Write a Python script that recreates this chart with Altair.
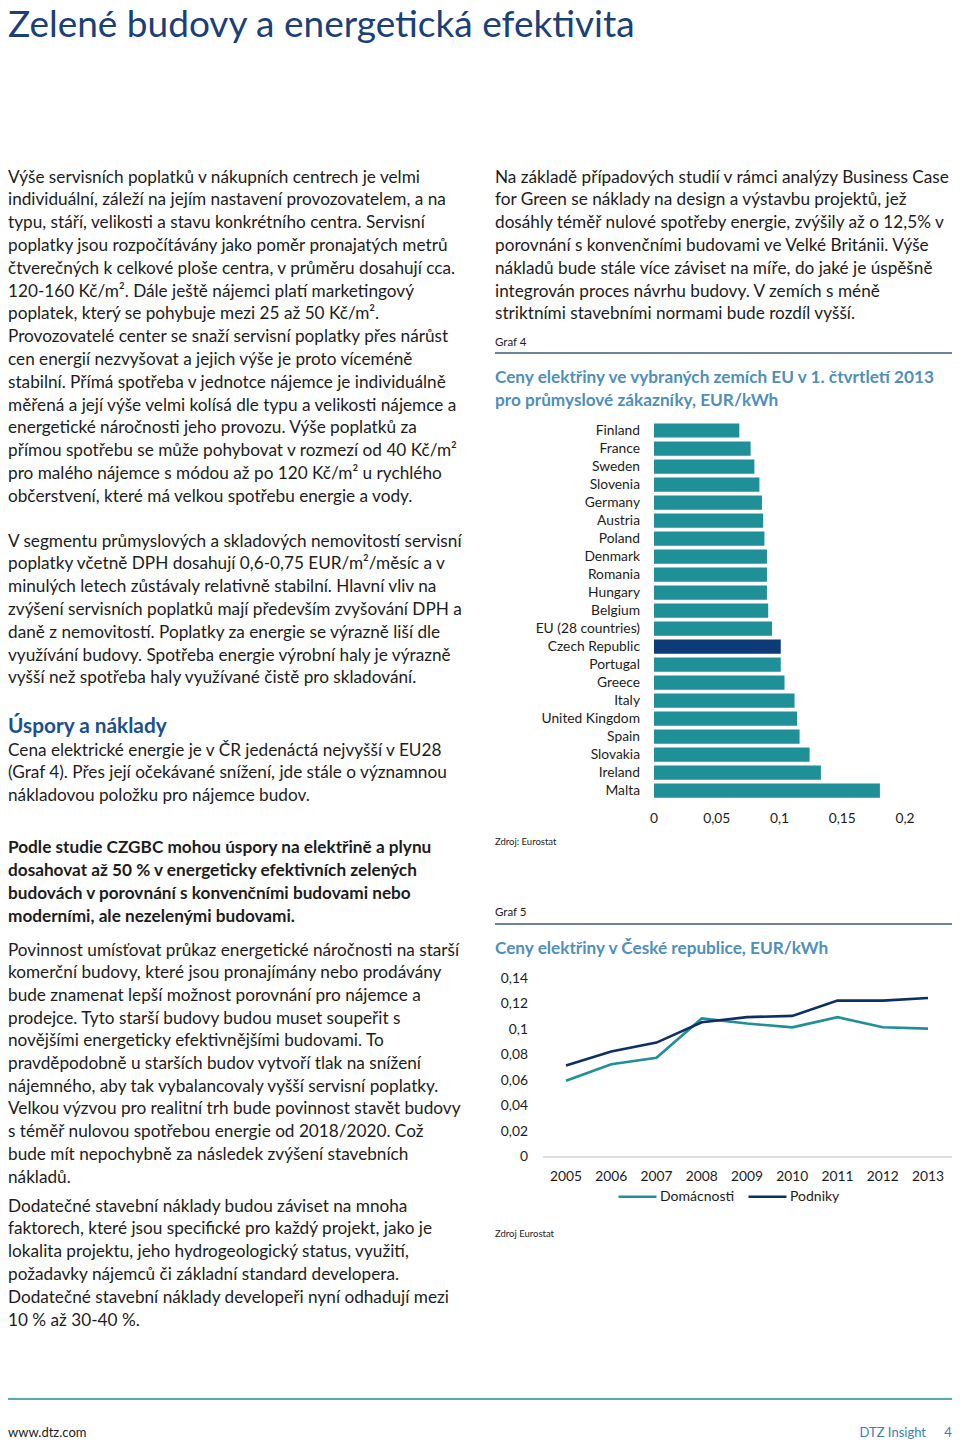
import altair as alt
import pandas as pd

# ---------------- data ----------------
title_text = "Zelené budovy a energetická efektivita"

left_p1 = [
    "Výše servisních poplatků v nákupních centrech je velmi",
    "individuální, záleží na jejím nastavení provozovatelem, a na",
    "typu, stáří, velikosti a stavu konkrétního centra. Servisní",
    "poplatky jsou rozpočítávány jako poměr pronajatých metrů",
    "čtverečných k celkové ploše centra, v průměru dosahují cca.",
    "120-160 Kč/m². Dále ještě nájemci platí marketingový",
    "poplatek, který se pohybuje mezi 25 až 50 Kč/m².",
    "Provozovatelé center se snaží servisní poplatky přes nárůst",
    "cen energií nezvyšovat a jejich výše je proto víceméně",
    "stabilní. Přímá spotřeba v jednotce nájemce je individuálně",
    "měřená a její výše velmi kolísá dle typu a velikosti nájemce a",
    "energetické náročnosti jeho provozu. Výše poplatků za",
    "přímou spotřebu se může pohybovat v rozmezí od 40 Kč/m²",
    "pro malého nájemce s módou až po 120 Kč/m² u rychlého",
    "občerstvení, které má velkou spotřebu energie a vody.",
]
left_p2 = [
    "V segmentu průmyslových a skladových nemovitostí servisní",
    "poplatky včetně DPH dosahují 0,6-0,75 EUR/m²/měsíc a v",
    "minulých letech zůstávaly relativně stabilní. Hlavní vliv na",
    "zvýšení servisních poplatků mají především zvyšování DPH a",
    "daně z nemovitostí. Poplatky za energie se výrazně liší dle",
    "využívání budovy. Spotřeba energie výrobní haly je výrazně",
    "vyšší než spotřeba haly využívané čistě pro skladování.",
]
heading_text = "Úspory a náklady"
left_p3 = [
    "Cena elektrické energie je v ČR jedenáctá nejvyšší v EU28",
    "(Graf 4). Přes její očekávané snížení, jde stále o významnou",
    "nákladovou položku pro nájemce budov.",
]
left_bold = [
    "Podle studie CZGBC mohou úspory na elektřině a plynu",
    "dosahovat až 50 % v energeticky efektivních zelených",
    "budovách v porovnání s konvenčními budovami nebo",
    "moderními, ale nezelenými budovami.",
]
left_p4 = [
    "Povinnost umísťovat průkaz energetické náročnosti na starší",
    "komerční budovy, které jsou pronajímány nebo prodávány",
    "bude znamenat lepší možnost porovnání  pro nájemce a",
    "prodejce. Tyto starší budovy budou muset soupeřit s",
    "novějšími energeticky efektivnějšími budovami. To",
    "pravděpodobně u starších budov vytvoří tlak na snížení",
    "nájemného, aby tak vybalancovaly vyšší servisní poplatky.",
    "Velkou výzvou pro realitní trh bude povinnost stavět budovy",
    "s téměř nulovou spotřebou energie od 2018/2020. Což",
    "bude mít nepochybně za následek zvýšení stavebních",
    "nákladů.",
]
left_p5 = [
    "Dodatečné stavební náklady budou záviset na mnoha",
    "faktorech, které jsou specifické pro každý projekt, jako je",
    "lokalita projektu, jeho hydrogeologický status, využití,",
    "požadavky nájemců či základní standard developera.",
    "Dodatečné stavební náklady developeři nyní odhadují mezi",
    "10 % až 30-40 %.",
]
right_p1 = [
    "Na základě případových studií v rámci analýzy Business Case",
    "for Green se náklady na design a výstavbu projektů, jež",
    "dosáhly téměř nulové spotřeby energie, zvýšily až o 12,5% v",
    "porovnání s konvenčními budovami ve Velké Británii. Výše",
    "nákladů bude stále více záviset na míře, do jaké je úspěšně",
    "integrován proces návrhu budovy. V zemích s méně",
    "striktními stavebními normami bude rozdíl vyšší.",
]
graf4_label = "Graf 4"
graf4_title = ["Ceny elektřiny ve vybraných zemích EU v 1. čtvrtletí 2013",
               "pro průmyslové zákazníky, EUR/kWh"]
graf4_source = "Zdroj: Eurostat"
graf5_label = "Graf 5"
graf5_title = ["Ceny elektřiny v České republice, EUR/kWh"]
graf5_source = "Zdroj Eurostat"
footer_left = "www.dtz.com"
footer_right = "DTZ Insight"
page_number = "4"

# Graf 4 – bar chart
countries = ["Finland", "France", "Sweden", "Slovenia", "Germany", "Austria",
             "Poland", "Denmark", "Romania", "Hungary", "Belgium",
             "EU (28 countries)", "Czech Republic", "Portugal", "Greece",
             "Italy", "United Kingdom", "Spain", "Slovakia", "Ireland", "Malta"]
prices = [0.068, 0.077, 0.080, 0.084, 0.086, 0.087, 0.088, 0.090, 0.090,
          0.090, 0.091, 0.094, 0.101, 0.101, 0.104, 0.112, 0.114, 0.116,
          0.124, 0.133, 0.180]
bar_ticks = [0, 0.05, 0.1, 0.15, 0.2]
bar_tick_labels = ["0", "0,05", "0,1", "0,15", "0,2"]

# Graf 5 – line chart
years = [2005, 2006, 2007, 2008, 2009, 2010, 2011, 2012, 2013]
domacnosti = [0.060, 0.073, 0.078, 0.109, 0.105, 0.102, 0.110, 0.102, 0.101]
podniky = [0.072, 0.083, 0.090, 0.106, 0.110, 0.111, 0.123, 0.123, 0.125]
series_names = ["Domácnosti", "Podniky"]
line_ticks = [0, 0.02, 0.04, 0.06, 0.08, 0.1, 0.12, 0.14]
line_tick_labels = ["0", "0,02", "0,04", "0,06", "0,08", "0,1", "0,12", "0,14"]

# ---------------- styles ----------------
FONT = "Lato"
BODY = 17.2
TEXT_C = "#1c1c1c"
NAVY = "#1a4079"
TEAL = "#1f8f98"
CZ = "#0c3b78"
LIGHTBLUE = "#4f8fba"
LH = 22.8
B = 1.5  # small vertical nudge for body text

O = 8    # page margin offset (page px -> chart px)
OY = 8


def text_block(lines, x, y0, dy=LH, **kw):
    df = pd.DataFrame({
        "t": lines,
        "px": [x] * len(lines),
        "py": [y0 + i * dy for i in range(len(lines))],
    })
    style = dict(align="left", baseline="middle", font=FONT, fontSize=BODY,
                 color=TEXT_C)
    style.update(kw)
    return alt.Chart(df).mark_text(**style).encode(
        x=alt.X("px:Q", scale=None, axis=None),
        y=alt.Y("py:Q", scale=None, axis=None),
        text="t:N",
    )


def hrule(x1, x2, y, color, width):
    return alt.Chart(pd.DataFrame({"a": [0]})).mark_rule(
        color=color, strokeWidth=width
    ).encode(x=alt.value(x1), x2=alt.value(x2), y=alt.value(y))


layers = []
layers.append(text_block([title_text], 0, 26 - OY, fontSize=37, color=NAVY))
# left column
LX = 0
layers.append(text_block(left_p1, LX, 176 - OY + B))
layers.append(text_block(left_p2, LX, 540 - OY + B))
layers.append(text_block([heading_text], LX, 725 - OY + B, fontSize=20.8,
                         fontWeight="bold", color="#1b4f8f"))
layers.append(text_block(left_p3, LX, 749 - OY + B))
layers.append(text_block(left_bold, LX, 846 - OY + B, dy=23, fontWeight="bold"))
layers.append(text_block(left_p4, LX, 949 - OY + B, dy=22.7))
layers.append(text_block(left_p5, LX, 1205 - OY + B))
# right column
RX = 495 - O
layers.append(text_block(right_p1, RX, 176 - OY + B))
layers.append(text_block([graf4_label], RX, 343 - OY, fontSize=11.5))
layers.append(hrule(RX, 944, 353 - OY, "#3d5a7c", 1.5))
layers.append(text_block(graf4_title, RX, 376 - OY + B, dy=23, fontSize=17.2,
                         fontWeight="bold", color=LIGHTBLUE))
layers.append(text_block([graf4_source], RX, 842 - OY, fontSize=9.5))
layers.append(text_block([graf5_label], RX, 913 - OY, fontSize=11.5))
layers.append(hrule(RX, 944, 924 - OY, "#3d5a7c", 1.5))
layers.append(text_block(graf5_title, RX, 947 - OY + B, fontSize=17.2,
                         fontWeight="bold", color=LIGHTBLUE))
layers.append(text_block([graf5_source], RX, 1234 - OY, fontSize=9.5))
# footer
layers.append(hrule(0, 944, 1399 - OY, "#5aa9ad", 2))
layers.append(text_block([footer_left], 0, 1433 - OY, fontSize=13))
layers.append(text_block([footer_right], 926 - O, 1433 - OY, fontSize=13,
                         color="#3b7db5", align="right"))
layers.append(text_block([page_number], 948 - O, 1433 - OY, fontSize=13,
                         color="#3b7db5", align="center"))

# ---------------- bar chart (Graf 4) ----------------
bar_df = pd.DataFrame({"country": countries, "price": prices})
xs_bar = alt.Scale(domain=[0, 0.2], range=[654 - O, 905 - O], nice=False, zero=False)
ys_bar = alt.Scale(domain=countries, range=[421.5 - OY, 799.7 - OY],
                   paddingInner=0.21, paddingOuter=0.105)

bars = alt.Chart(bar_df).mark_bar().encode(
    x=alt.X("price:Q", scale=xs_bar, axis=None),
    y=alt.Y("country:N", scale=ys_bar, axis=None),
    color=alt.condition(alt.datum.country == "Czech Republic",
                        alt.value(CZ), alt.value(TEAL)),
)
bar_labels = alt.Chart(bar_df).mark_text(
    align="right", baseline="middle", font=FONT, fontSize=13.8, color=TEXT_C
).encode(
    x=alt.value(640 - O),
    y=alt.Y("country:N", scale=ys_bar, axis=None),
    text="country:N",
)
bar_tick_df = pd.DataFrame({"v": bar_ticks, "lab": bar_tick_labels})
bar_tick_text = alt.Chart(bar_tick_df).mark_text(
    align="center", baseline="middle", font=FONT, fontSize=13.8, color=TEXT_C
).encode(
    x=alt.X("v:Q", scale=xs_bar, axis=None),
    y=alt.value(819 - OY),
    text="lab:N",
)
bar_group = alt.layer(bars, bar_labels, bar_tick_text)

# ---------------- line chart (Graf 5) ----------------
line_df = pd.DataFrame({
    "year": years * 2,
    "value": domacnosti + podniky,
    "series": [series_names[0]] * len(years) + [series_names[1]] * len(years),
})
xs_line = alt.Scale(type="point", domain=years, range=[566 - O, 928 - O], padding=0)
ys_line = alt.Scale(domain=[0, 0.14], range=[1157 - OY, 979 - OY], nice=False, zero=False)

baseline = alt.Chart(pd.DataFrame({"v": [0]})).mark_rule(
    color="#bdbdbd", strokeWidth=1
).encode(
    x=alt.value(543 - O), x2=alt.value(944),
    y=alt.Y("v:Q", scale=ys_line, axis=None),
)
lines = alt.Chart(line_df).mark_line(strokeWidth=2.6).encode(
    x=alt.X("year:O", scale=xs_line, axis=None),
    y=alt.Y("value:Q", scale=ys_line, axis=None),
    color=alt.Color(
        "series:N",
        scale=alt.Scale(domain=series_names, range=[TEAL, "#0d2f61"]),
        legend=alt.Legend(
            orient="none", legendX=617 - O, legendY=1176 - OY,
            direction="horizontal", title=None, symbolType="stroke",
            symbolSize=1444, symbolStrokeWidth=2.6, labelFont=FONT,
            labelFontSize=14, labelColor=TEXT_C, labelOffset=2,
            columnPadding=8, padding=0,
        ),
    ),
)
ytick_df = pd.DataFrame({"v": line_ticks, "lab": line_tick_labels})
ytick_text = alt.Chart(ytick_df).mark_text(
    align="right", baseline="middle", font=FONT, fontSize=13.8, color=TEXT_C
).encode(
    x=alt.value(528 - O),
    y=alt.Y("v:Q", scale=ys_line, axis=None),
    text="lab:N",
)
year_df = pd.DataFrame({"year": years})
year_text = alt.Chart(year_df).mark_text(
    align="center", baseline="middle", font=FONT, fontSize=13.8, color=TEXT_C
).encode(
    x=alt.X("year:O", scale=xs_line, axis=None),
    y=alt.value(1177 - OY),
    text="year:O",
)
line_group = alt.layer(baseline, lines, ytick_text, year_text)

chart = alt.layer(*layers, bar_group, line_group).resolve_scale(
    x="independent", y="independent", color="independent"
).properties(
    width=944, height=1431, padding=0,
    autosize=alt.AutoSizeParams(type="none"),
).configure_view(stroke=None)

chart.save("out.html", embed_options={"renderer": "svg", "actions": False})
